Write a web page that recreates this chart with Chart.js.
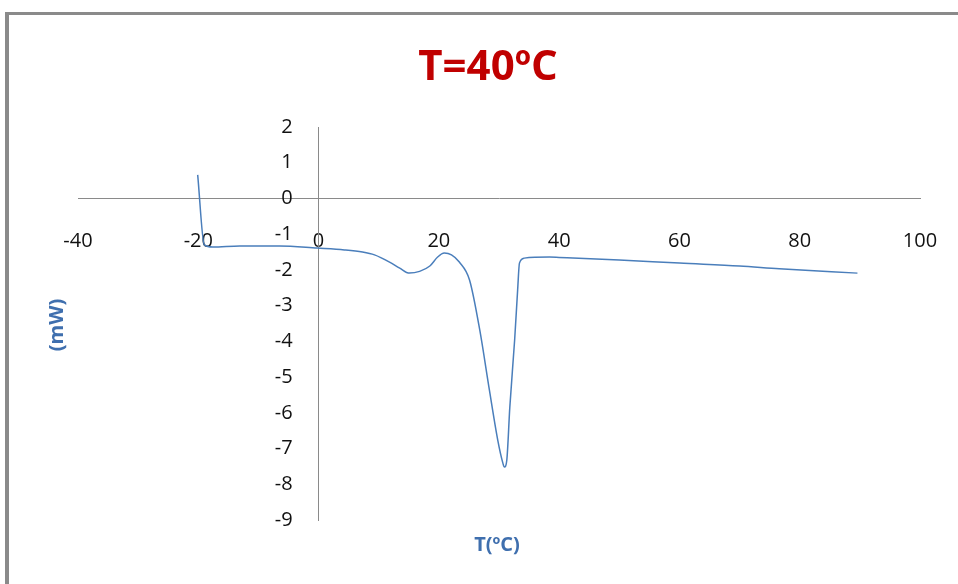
<!DOCTYPE html>
<html>
<head>
<meta charset="utf-8">
<script src="https://cdn.jsdelivr.net/npm/chart.js@4"></script>
<style>
  html, body { margin: 0; padding: 0; background: #fff; }
  #wrap { position: relative; width: 958px; height: 584px; overflow: hidden; }
  #frame {
    position: absolute; left: 5px; top: 12px; right: -10px; bottom: -10px;
    border-top: 3px solid #8a8a8a; border-left: 4px solid #8a8a8a;
  }
  canvas { position: absolute; left: 0; top: 0; }
</style>
</head>
<body>
<div id="wrap">
  <div id="frame"></div>
  <canvas id="chart" width="958" height="584"></canvas>
</div>
<script>
const TITLE = 'T=40ºC';
const X_TITLE = 'T(ºC)';
const Y_TITLE = '(mW)';

// temperature (ºC) and heat flow (mW)
const tempC = [-20.1, -19.0, -17.6, -13.1, -6.5, -0.2, 4.3, 7.3, 9.3, 11.8, 13.5, 15.1,
  16.8, 18.5, 19.8, 20.9, 22.1, 23.4, 25.1, 26.8, 28.4, 29.8, 30.6, 30.9, 31.3, 31.8,
  32.6, 33.1, 33.4, 34.2, 38.4, 40, 50, 60, 70, 76.6, 89.6];
const heatFlow = [0.66, -1.30, -1.36, -1.33, -1.33, -1.39, -1.44, -1.50, -1.58, -1.78, -1.95, -2.09,
  -2.04, -1.89, -1.64, -1.53, -1.58, -1.78, -2.28, -3.68, -5.36, -6.77, -7.38, -7.52, -7.32, -5.84,
  -3.96, -2.56, -1.81, -1.67, -1.64, -1.65, -1.72, -1.81, -1.89, -1.97, -2.09];

const X_MIN = -40, X_MAX = 100, X_STEP = 20;
const Y_MIN = -9, Y_MAX = 2, Y_STEP = 1;

const AXIS = '#8a8a8a';
const LINE = '#4a7ebb';
const LABEL_BLUE = '#3f6fae';
const FONT = "'Open Sans', 'DejaVu Sans', sans-serif";

const textPlugin = {
    id: 'texts',
    afterDraw(chart) {
        const ctx = chart.ctx;
        ctx.save();
        ctx.textAlign = 'center';
        ctx.textBaseline = 'middle';
        ctx.fillStyle = '#c00000';
        ctx.font = 'bold 42px ' + FONT;
        ctx.fillText(TITLE, 488, 68);

        ctx.fillStyle = LABEL_BLUE;
        ctx.font = 'bold 20px ' + FONT;
        ctx.fillText(X_TITLE, 497, 545);

        ctx.translate(57, 325);
        ctx.rotate(-Math.PI / 2);
        ctx.fillText(Y_TITLE, 0, 0);
        ctx.restore();
    }
};

new Chart(document.getElementById('chart'), {
    type: 'scatter',
    data: {
        datasets: [{
            data: tempC.map((t, i) => ({ x: t, y: heatFlow[i] })),
            showLine: true,
            borderColor: LINE,
            borderWidth: 1.5,
            pointRadius: 0,
            cubicInterpolationMode: 'monotone'
        }]
    },
    options: {
        responsive: false,
        animation: false,
        layout: { padding: { left: 78, right: 38, top: 127, bottom: 64 } },
        plugins: {
            legend: { display: false },
            tooltip: { enabled: false }
        },
        scales: {
            x: {
                type: 'linear',
                min: X_MIN, max: X_MAX,
                position: { y: 0 },
                ticks: {
                    stepSize: X_STEP,
                    padding: 3,
                    color: '#111',
                    // tall line box drops the labels well under the axis
                    font: { family: FONT, size: 20, lineHeight: 4 }
                },
                grid: { display: false, drawTicks: false, tickLength: 0 },
                border: { display: true, color: AXIS, width: 1 }
            },
            y: {
                type: 'linear',
                min: Y_MIN, max: Y_MAX,
                position: { x: 0 },
                ticks: {
                    stepSize: Y_STEP,
                    color: '#111',
                    font: { family: FONT, size: 20 },
                    callback: v => v + '     '
                },
                grid: { display: false, drawTicks: false, tickLength: 0 },
                border: { display: true, color: AXIS, width: 1 }
            }
        }
    },
    plugins: [textPlugin]
});
</script>
</body>
</html>
